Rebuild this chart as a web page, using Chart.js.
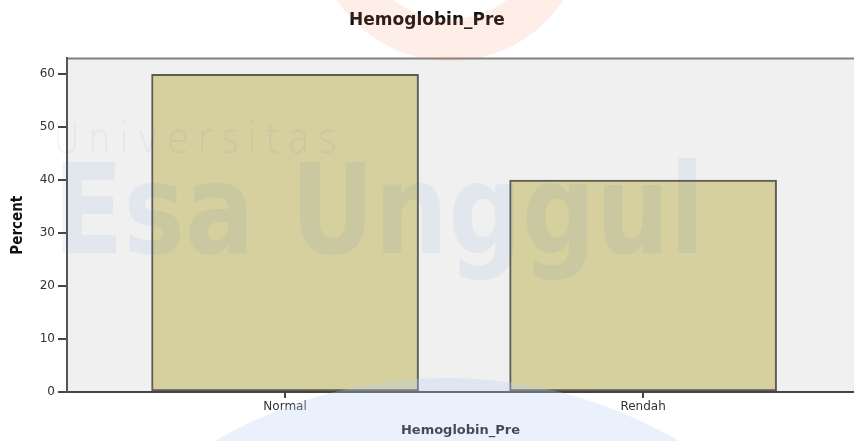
<!DOCTYPE html>
<html>
<head>
<meta charset="utf-8">
<script src="https://cdn.jsdelivr.net/npm/chart.js@4.4.0/dist/chart.umd.min.js"></script>
<style>
  html, body { margin: 0; padding: 0; background: #fff; overflow: hidden; }
  #wrap { width: 854px; height: 441px; }
</style>
</head>
<body>
<div id="wrap"><canvas id="chart"></canvas></div>
<script>
// data
const categories = ["Normal", "Rendah"]
const percent = [60, 40]
const yTicks = [0, 10, 20, 30, 40, 50, 60]

// grey plot background + thin top frame line
const plotBg = {
  id: "plotBg",
  beforeDraw(chart) {
    const { ctx, chartArea: a } = chart
    ctx.save()
    ctx.fillStyle = "#f0f0f0"
    ctx.fillRect(a.left, a.top, a.right - a.left, a.bottom - a.top)
    ctx.strokeStyle = "#808080"
    ctx.lineWidth = 2
    ctx.beginPath()
    ctx.moveTo(a.left, a.top)
    ctx.lineTo(a.right, a.top)
    ctx.stroke()
    ctx.restore()
  },
}

// faint university watermark laid over the chart
const watermark = {
  id: "watermark",
  afterDraw(chart) {
    const ctx = chart.ctx
    ctx.save()
    // orange ring at the top
    ctx.strokeStyle = "rgba(240,120,80,0.13)"
    ctx.lineWidth = 42
    ctx.beginPath()
    ctx.arc(450, -75, 115, 0, Math.PI * 2)
    ctx.stroke()
    // blue disc at the bottom
    ctx.fillStyle = "rgba(190,208,245,0.3)"
    ctx.beginPath()
    ctx.arc(447, 837, 459, 0, Math.PI * 2)
    ctx.fill()
    // text
    ctx.fillStyle = "rgba(60,110,210,0.08)"
    ctx.textBaseline = "alphabetic"
    ctx.font = '200 42px "DejaVu Sans"'
    ctx.letterSpacing = "9px"
    ctx.fillText("Universitas", 53, 153, 292)
    ctx.letterSpacing = "0px"
    ctx.font = 'bold 125px "DejaVu Sans"'
    ctx.fillText("Esa Unggul", 53, 253, 652)
    ctx.restore()
  },
}

new Chart(document.getElementById("chart"), {
  type: "bar",
  data: {
    datasets: [
      {
        label: "Percent",
        data: categories.map((c, i) => ({ x: i, y: percent[i] })),
        backgroundColor: "#d5d09d",
        borderColor: "#5c5c55",
        borderWidth: 2,
        borderSkipped: false,
        barThickness: 267,
      },
    ],
  },
  options: {
    responsive: true,
    maintainAspectRatio: false,
    animation: false,
    layout: { padding: 0 },
    plugins: {
      legend: { display: false },
      tooltip: { enabled: false },
      title: {
        display: true,
        text: "Hemoglobin_Pre",
        color: "#111",
        font: { family: '"DejaVu Sans"', size: 17, weight: "bold" },
        padding: { top: 10, bottom: 28 },
      },
    },
    scales: {
      x: {
        type: "linear",
        offset: false,
        min: -0.609,
        max: 1.589,
        afterBuildTicks: (scale) => {
          scale.ticks = categories.map((c, i) => ({ value: i }))
        },
        afterFit: (scale) => {
          scale.height = 49
        },
        ticks: {
          callback: (v) => categories[v],
          color: "#333",
          font: { family: '"DejaVu Sans"', size: 12 },
          padding: 2,
          maxRotation: 0,
        },
        grid: { offset: false, drawOnChartArea: false, tickLength: 6, color: "#444", lineWidth: 2 },
        border: { color: "#444", width: 2 },
        title: {
          display: true,
          text: "Hemoglobin_Pre",
          color: "#111",
          font: { family: '"DejaVu Sans"', size: 13, weight: "bold" },
          padding: { top: 0, bottom: 3 },
        },
      },
      y: {
        min: 0,
        max: 63,
        afterBuildTicks: (scale) => {
          scale.ticks = yTicks.map((v) => ({ value: v }))
        },
        afterFit: (scale) => {
          scale.width = 67
        },
        ticks: {
          color: "#333",
          font: { family: '"DejaVu Sans"', size: 12 },
          padding: 3,
        },
        grid: { drawOnChartArea: false, tickLength: 9, color: "#444", lineWidth: 2 },
        border: { color: "#555", width: 2 },
        title: {
          display: true,
          text: "Percent",
          color: "#111",
          font: { family: '"Liberation Sans Narrow", "DejaVu Sans Condensed", sans-serif', size: 15, weight: "bold" },
          padding: { top: 9, bottom: 0 },
        },
      },
    },
  },
  plugins: [plotBg, watermark],
})
</script>
</body>
</html>
